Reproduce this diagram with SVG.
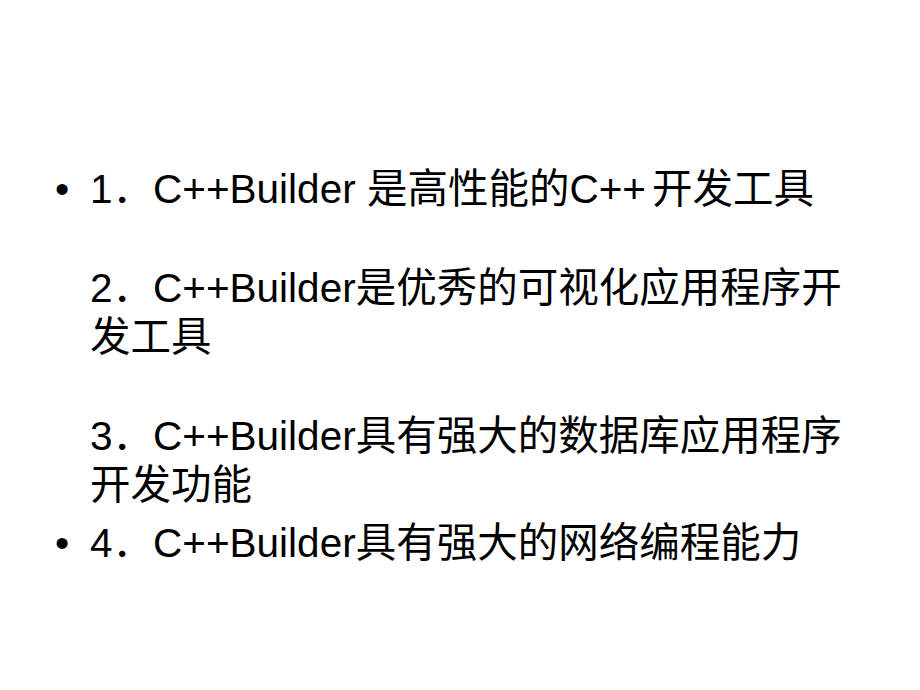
<svg xmlns="http://www.w3.org/2000/svg" width="920" height="690" viewBox="0 0 920 690">
<style>
.t{font-family:"Liberation Sans","Noto Sans CJK SC",sans-serif;font-size:40.5px;fill:#000;}
</style>
<rect x="0" y="0" width="920" height="690" fill="#ffffff"/>
<g id="item1">
<text class="t" x="55" y="203">•</text>
<text class="t" x="90" y="203">1．C++Builder 是高性能的C++<tspan x="652">开发工具</tspan></text>
<text class="t" x="90" y="302">2．C++Builder是优秀的可视化应用程序开</text>
<text class="t" x="90" y="351">发工具</text>
<text class="t" x="90" y="450">3．C++Builder具有强大的数据库应用程序</text>
<text class="t" x="90" y="499">开发功能</text>
</g>
<g id="item2">
<text class="t" x="55" y="557">•</text>
<text class="t" x="90" y="557">4．C++Builder具有强大的网络编程能力</text>
</g>
</svg>
